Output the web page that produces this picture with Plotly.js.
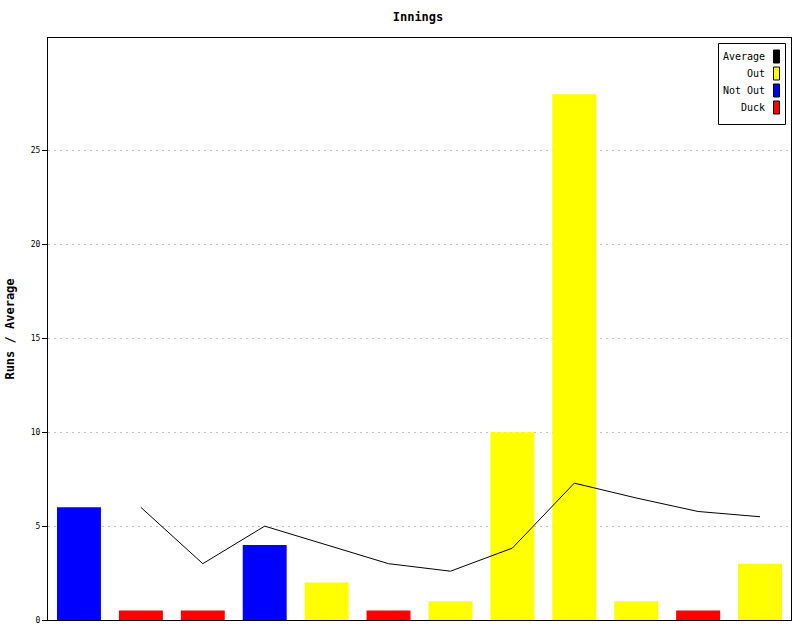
<!DOCTYPE html>
<html>
<head>
<meta charset="utf-8">
<script src="https://cdn.plot.ly/plotly-3.0.1.min.js"></script>
<style>html,body{margin:0;padding:0;background:#fff;}#chart{width:800px;height:640px;}</style>
</head>
<body>
<div id="chart"></div>
<script>
// ---- data ----
const innings = [1, 2, 3, 4, 5, 6, 7, 8, 9, 10, 11, 12];
const runs = [6, 0, 0, 4, 2, 0, 1, 10, 28, 1, 0, 3];
const status = ['Not Out', 'Duck', 'Duck', 'Not Out', 'Out', 'Duck', 'Out', 'Out', 'Out', 'Out', 'Duck', 'Out'];
const duckDisplay = 0.5;
const average = [null, 6, 3, 5, 4, 3, 2.6, 3.83, 7.29, 6.5, 5.78, 5.5];
const legendLabels = ['Average', 'Out', 'Not Out', 'Duck'];
const colors = {'Average': '#000000', 'Out': '#ffff00', 'Not Out': '#0000ff', 'Duck': '#ff0000'};

// ---- layout geometry (pixels) ----
const W = 800, H = 640;
const L = 48, R = 791, T = 38, B = 620;
const px2x = x => (x - L) / (R - L);
const px2y = y => (B - y) / (B - T);

function barTrace(kind) {
  const xs = [], ys = [];
  innings.forEach((inn, i) => {
    if (status[i] === kind) {
      xs.push(inn);
      ys.push(kind === 'Duck' ? duckDisplay : runs[i]);
    }
  });
  return {type: 'bar', name: kind, x: xs, y: ys, width: 0.71,
          marker: {color: colors[kind], line: {width: 0}}, hoverinfo: 'x+y'};
}

const traces = [
  barTrace('Out'), barTrace('Not Out'), barTrace('Duck'),
  {type: 'scatter', mode: 'lines', name: 'Average', x: innings, y: average,
   line: {color: '#000', width: 1}, connectgaps: false}
];

const font = 'DejaVu Sans Mono, monospace';
const shapes = [];
const annotations = [];
// legend box
shapes.push({type: 'rect', xref: 'paper', yref: 'paper',
  x0: px2x(718.5), x1: px2x(785.5), y0: px2y(43.5), y1: px2y(124.5),
  line: {color: '#000', width: 1}, fillcolor: '#fff', layer: 'above'});
legendLabels.forEach((lab, i) => {
  const cy = 56.5 + i * 17;
  shapes.push({type: 'rect', xref: 'paper', yref: 'paper',
    x0: px2x(773.5), x1: px2x(779.5), y0: px2y(cy - 6.5), y1: px2y(cy + 6.5),
    line: {color: '#000', width: 1}, fillcolor: colors[lab], layer: 'above'});
  annotations.push({xref: 'paper', yref: 'paper', x: px2x(767), y: px2y(cy),
    xanchor: 'right', yanchor: 'middle', text: lab, showarrow: false,
    font: {family: font, size: 10, color: '#000'}});
});

const layout = {
  width: W, height: H,
  margin: {l: L, r: W - R, t: T, b: H - B, pad: 0},
  paper_bgcolor: '#fff', plot_bgcolor: '#fff',
  showlegend: false,
  barmode: 'overlay',
  title: {text: '<b>Innings</b>', x: 418 / W, xanchor: 'center',
          y: 1 - 17 / H, yanchor: 'middle', font: {family: font, size: 12, color: '#000'}},
  xaxis: {range: [0.5, 12.5], showticklabels: false, ticks: '', showgrid: false,
          zeroline: false, showline: true, linecolor: '#000', linewidth: 1, mirror: true,
          fixedrange: true},
  yaxis: {range: [0, 31], tickvals: [0, 5, 10, 15, 20, 25], ticks: 'outside', ticklen: 5,
          tickcolor: '#000', tickfont: {family: font, size: 8, color: '#000'},
          showgrid: true, gridcolor: '#c4c4c4', griddash: '2px,4px', gridwidth: 1,
          zeroline: false, showline: true, linecolor: '#000', linewidth: 1, mirror: true,
          title: {text: '<b>Runs / Average</b>', font: {family: font, size: 12, color: '#000'}, standoff: 13},
          fixedrange: true},
  shapes: shapes,
  annotations: annotations
};

Plotly.newPlot('chart', traces, layout, {displayModeBar: false, staticPlot: true});
</script>
</body>
</html>
